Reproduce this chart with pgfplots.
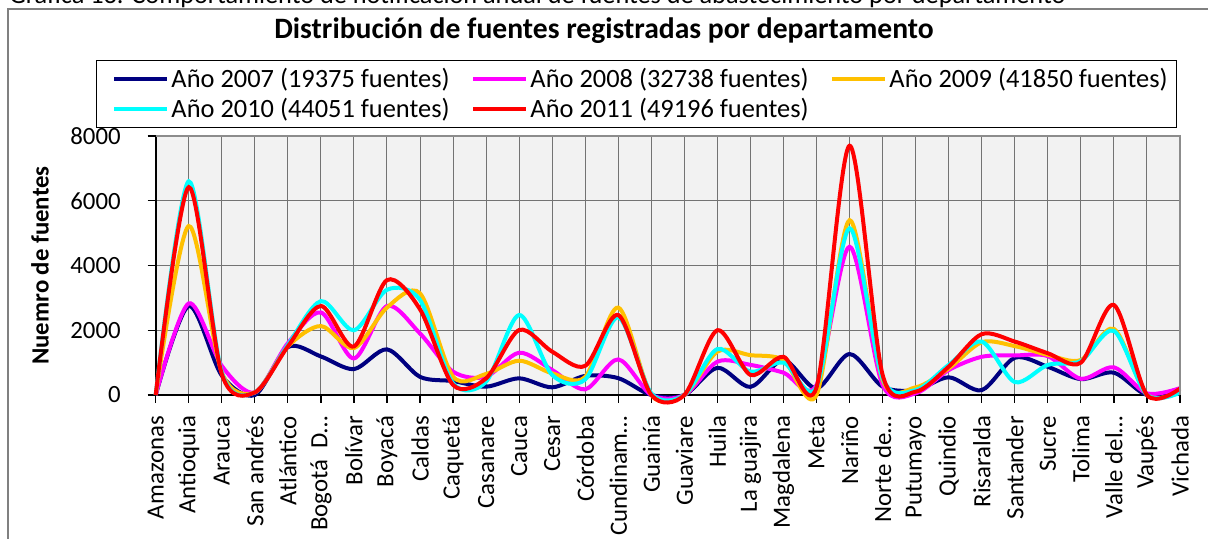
\documentclass[border=0pt]{standalone}
\usepackage{fontspec}
\setmainfont{Carlito}
\usepackage{graphicx}
\usepackage{pgfplots}
\pgfplotsset{compat=1.18}
\definecolor{cA}{HTML}{000080}
\definecolor{cB}{HTML}{FF00FF}
\definecolor{cC}{HTML}{FFC000}
\definecolor{cD}{HTML}{00FFFF}
\definecolor{cE}{HTML}{FF0000}
\newcommand{\fs}{\fontsize{12.4}{14}\selectfont}
\newcommand{\fl}{\fontsize{13.2}{15}\selectfont}
\newcommand{\lt}[1]{\makebox[140pt][l]{#1}}
\newcommand{\yl}[1]{#1\rule{10pt}{0pt}}
\begin{document}
\begin{tikzpicture}[x=0.5pt,y=0.5pt]
\useasboundingbox (0,0) rectangle (1208,539);
\clip (0,0) rectangle (1208,539);
\node[anchor=base west, inner sep=0pt] at (9,535.5) {\resizebox{528pt}{!}{Gráfica 13. Comportamiento de notificación anual de fuentes de abastecimiento por departamento}};
\draw[black!50, line width=0.9pt] (8,-20) -- (8,530) -- (1230,530);
\node[anchor=base, inner sep=0pt, font=\fontsize{14.8}{17}\selectfont\bfseries] at (604,500) {Distribución de fuentes registradas por departamento};
\begin{axis}[
  at={(77.85pt,72pt)}, anchor=south west,
  scale only axis, width=512.15pt, height=129.5pt,
  xmin=0, xmax=31, ymin=0, ymax=8000,
  clip=false,
  xtick={0,...,31},
  xticklabels={Amazonas,Antioquia,Arauca,San andrés,Atlántico,Bogotá\ \ D…,Bolívar,Boyacá,Caldas,Caquetá,Casanare,Cauca,Cesar,Córdoba,Cundinam…,Guainía,Guaviare,Huila,La guajira,Magdalena,Meta,Nariño,Norte de…,Putumayo,Quindio,Risaralda,Santander,Sucre,Tolima,Valle del…,Vaupés,Vichada},
  ytick={0,2000,4000,6000,8000},
  yticklabels={\yl{0},\yl{2000},\yl{4000},\yl{6000},\yl{8000}},
  axis x line*=bottom, axis y line*=left,
  axis line style={black, line width=1pt},
  tick style={black, line width=0.6pt},
  major tick length=4pt, tick align=outside,
  grid=major, major grid style={black!55, line width=0.5pt},
  axis background/.style={fill=black!5},
  xticklabel style={rotate=90, anchor=east, font=\fs},
  xticklabel shift=3pt,
  yticklabel style={font=\fs, anchor=east},
  ylabel={\textbf{Nuemro de fuentes}},
  ylabel style={font=\fs, at={(axis description cs:-0.113,0.5)}, anchor=center},
  legend columns=3,
  legend style={at={(-0.0583,1.2934)}, anchor=north west, draw=black, line width=0.5pt, fill=white,
    font=\fl, inner xsep=2.5pt, inner ysep=2.5pt, row sep=1.2pt,
    nodes={inner xsep=1pt, inner ysep=1.3pt},
    cells={anchor=west},
    /tikz/every even column/.append style={column sep=3.5pt}},
  legend image code/.code={\path (0pt,0pt); \draw[#1] (5.5pt,0pt) -- (32pt,0pt);},
]
\addplot[cA, line width=2pt, smooth] coordinates {(0,0) (1,2750) (2,600) (3,0) (4,1480) (5,1190) (6,800) (7,1410) (8,560) (9,430) (10,257) (11,515) (12,237) (13,590) (14,520) (15,0) (16,0) (17,840) (18,250) (19,1080) (20,206) (21,1266) (22,257) (23,154) (24,546) (25,150) (26,1150) (27,870) (28,490) (29,690) (30,0) (31,200)};
\addlegendentry{\lt{Año 2007 (19375 fuentes)}}
\addplot[cB, line width=2pt, smooth] coordinates {(0,0) (1,2830) (2,900) (3,80) (4,1600) (5,2550) (6,1130) (7,2750) (8,1900) (9,720) (10,566) (11,1307) (12,772) (13,175) (14,1100) (15,0) (16,0) (17,1030) (18,930) (19,690) (20,309) (21,4580) (22,309) (23,51) (24,770) (25,1180) (26,1220) (27,1200) (28,500) (29,855) (30,50) (31,210)};
\addlegendentry{\lt{Año 2008 (32738 fuentes)}}
\addplot[cC, line width=2pt, smooth] coordinates {(0,0) (1,5220) (2,700) (3,80) (4,1500) (5,2130) (6,1450) (7,2700) (8,3140) (9,566) (10,650) (11,1060) (12,669) (13,560) (14,2700) (15,0) (16,0) (17,1340) (18,1230) (19,1080) (20,0) (21,5400) (22,463) (23,237) (24,820) (25,1630) (26,1510) (27,1240) (28,1080) (29,2040) (30,0) (31,100)};
\addlegendentry{\lt{Año 2009 (41850 fuentes)}}
\addplot[cD, line width=2pt, smooth] coordinates {(0,0) (1,6600) (2,700) (3,80) (4,1550) (5,2900) (6,2000) (7,3250) (8,2935) (9,360) (10,411) (11,2471) (12,618) (13,480) (14,2400) (15,50) (16,0) (17,1420) (18,720) (19,1000) (20,250) (21,5150) (22,515) (23,154) (24,930) (25,1650) (26,400) (27,930) (28,1050) (29,1980) (30,0) (31,70)};
\addlegendentry{\lt{Año 2010 (44051 fuentes)}}
\addplot[cE, line width=2pt, smooth] coordinates {(0,0) (1,6420) (2,650) (3,80) (4,1500) (5,2750) (6,1500) (7,3550) (8,2646) (9,310) (10,515) (11,2008) (12,1338) (13,900) (14,2470) (15,0) (16,0) (17,2000) (18,620) (19,1180) (20,237) (21,7700) (22,618) (23,103) (24,875) (25,1880) (26,1650) (27,1290) (28,1000) (29,2780) (30,0) (31,200)};
\addlegendentry{\lt{Año 2011 (49196 fuentes)}}
\draw[black!45, line width=1pt] (rel axis cs:0,1) -- (rel axis cs:1,1) -- (rel axis cs:1,0);
\end{axis}
\end{tikzpicture}
\end{document}
